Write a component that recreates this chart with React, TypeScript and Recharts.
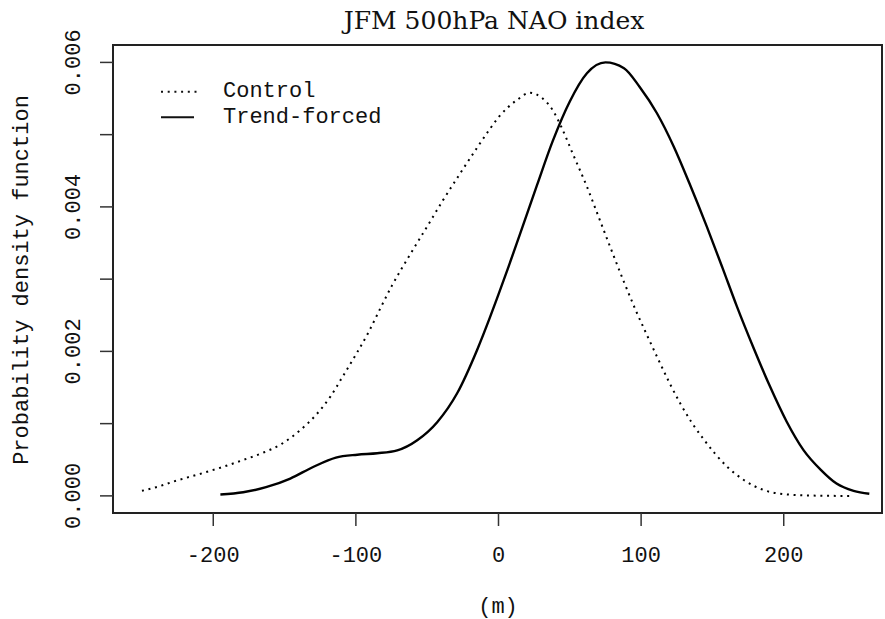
import { LineChart, Line, XAxis, YAxis, Legend, ReferenceArea } from "recharts";

// Control run pdf (dotted)
const controlX = [
  -250, -240, -226, -210, -195, -180, -166, -152, -139, -128, -118, -109, -99, -91, -83, -75, -62,
  -50, -39, -27, -15, -6, 0, 13, 22, 31, 38, 44, 52, 62, 71, 80, 88, 96, 104, 112, 120, 128, 136,
  144, 152, 160, 172, 186, 200, 218, 237, 249,
];
const controlPdf = [
  0.00007, 0.00012, 0.00021, 0.0003, 0.00039, 0.00049, 0.00059, 0.00072, 0.00091, 0.00112,
  0.00137, 0.00166, 0.00199, 0.00227, 0.00259, 0.0029, 0.00334, 0.00373, 0.00409, 0.00446,
  0.00482, 0.00508, 0.00524, 0.00548, 0.00558, 0.0055, 0.00534, 0.00511, 0.00474, 0.00428,
  0.00382, 0.00336, 0.00296, 0.00258, 0.00223, 0.00189, 0.00156, 0.00126, 0.001, 0.00078,
  0.00058, 0.00041, 0.00022, 0.00008, 0.000025, 0.000005, 0, 0,
];

// Trend-forced run pdf (solid)
const trendX = [
  -195, -179, -163, -146, -130, -114, -99, -85, -71, -57, -43, -29, -15, -6, 0, 7, 15, 27, 38, 50,
  62, 75, 88, 99, 111, 123, 134, 146, 157, 167, 179, 190, 202, 214, 226, 237, 249, 260,
];
const trendPdf = [
  0.00002, 0.00005, 0.00012, 0.00024, 0.0004, 0.00053, 0.00057, 0.00059, 0.00063, 0.00077,
  0.00102, 0.00142, 0.00202, 0.00247, 0.00279, 0.00317, 0.00362, 0.0043, 0.00491, 0.00546,
  0.00585, 0.006, 0.00592, 0.00566, 0.0053, 0.00483, 0.00432, 0.00373, 0.00316, 0.00263, 0.00204,
  0.00153, 0.00103, 0.00063, 0.00036, 0.00017, 0.00007, 0.00003,
];

const xTicks = [-200, -100, 0, 100, 200];
const yTicks = [0, 0.001, 0.002, 0.003, 0.004, 0.005, 0.006];

const seriesNames = ["Control", "Trend-forced"];
const chartTitle = "JFM 500hPa NAO index";
const xLabel = "(m)";
const yLabel = "Probability density function";

const controlData = controlX.map((x, i) => ({ x, pdf: controlPdf[i] }));
const trendData = trendX.map((x, i) => ({ x, pdf: trendPdf[i] }));

const MONO = "'Liberation Mono', 'DejaVu Sans Mono', monospace";
const SERIF = "'DejaVu Serif', 'Liberation Serif', serif";
const INK = "#111";
const xDomain = [-270.3, 268.9];
const yDomain = [-0.000237, 0.006241];

const YTick = (props: any) => {
  const { x, y, payload } = props;
  const v = payload.value;
  if (Math.round(v * 1000) % 2 !== 0) return null;
  return (
    <text
      x={x}
      y={y}
      transform={`rotate(-90, ${x}, ${y})`}
      textAnchor="middle"
      dominantBaseline="central"
      fontFamily={MONO}
      fontSize={22}
      fill={INK}
    >
      {v.toFixed(3)}
    </text>
  );
};

const renderLegend = () => (
  <svg width={300} height={60}>
    <line x1={11} x2={47} y1={16.7} y2={16.7} stroke={INK} strokeWidth={2} strokeDasharray="2 4.7" />
    <line x1={11} x2={44} y1={42.3} y2={42.3} stroke={INK} strokeWidth={2} />
    <text x={73} y={16.7} dominantBaseline="central" fontFamily={MONO} fontSize={22} fill={INK}>
      {seriesNames[0]}
    </text>
    <text x={73} y={42.3} dominantBaseline="central" fontFamily={MONO} fontSize={22} fill={INK}>
      {seriesNames[1]}
    </text>
  </svg>
);

// title + y axis title, drawn from the y axis label slot
const renderTitles = () => (
  <g>
    <text x={494} y={29} textAnchor="middle" fontFamily={SERIF} fontSize={25} fill={INK}>
      {chartTitle}
    </text>
    <text
      x={28}
      y={280}
      transform="rotate(-90, 28, 280)"
      textAnchor="middle"
      fontFamily={MONO}
      fontSize={22}
      fill={INK}
    >
      {yLabel}
    </text>
  </g>
);

export default function App() {
  return (
    <div style={{ position: "absolute", left: 0, top: 0, background: "#fff" }}>
      <LineChart width={885} height={619} margin={{ top: 45, right: 3, bottom: 0, left: 0 }}>
        <XAxis
          dataKey="x"
          type="number"
          domain={xDomain}
          ticks={xTicks}
          allowDataOverflow
          height={106}
          tickSize={13}
          tickMargin={20}
          tick={{ fontFamily: MONO, fontSize: 22, fill: INK }}
          tickLine={{ stroke: "#333", strokeWidth: 1.5 }}
          axisLine={{ stroke: "#222", strokeWidth: 2 }}
          label={{
            content: () => (
              <text x={498} y={607} textAnchor="middle" dominantBaseline="central" fontFamily={MONO} fontSize={22} fill={INK}>
                {xLabel}
              </text>
            ),
          }}
        />
        <YAxis
          type="number"
          domain={yDomain}
          ticks={yTicks}
          allowDataOverflow
          width={113}
          tickSize={13}
          tickMargin={25}
          tick={<YTick />}
          tickLine={{ stroke: "#333", strokeWidth: 1.5 }}
          axisLine={{ stroke: "#222", strokeWidth: 2 }}
          label={{ content: renderTitles }}
        />
        <ReferenceArea
          x1={xDomain[0]}
          x2={xDomain[1]}
          y1={yDomain[0]}
          y2={yDomain[1]}
          fill="none"
          fillOpacity={0}
          stroke="#222"
          strokeWidth={2}
          ifOverflow="visible"
        />
        <Legend
          layout="vertical"
          align="center"
          verticalAlign="middle"
          wrapperStyle={{ position: "absolute", left: 150, top: 75, width: 300, height: 60 }}
          content={renderLegend}
        />
        <Line
          data={controlData}
          dataKey="pdf"
          name={seriesNames[0]}
          type="monotone"
          stroke="#000"
          strokeWidth={2}
          strokeDasharray="2 4.7"
          dot={false}
          isAnimationActive={false}
        />
        <Line
          data={trendData}
          dataKey="pdf"
          name={seriesNames[1]}
          type="monotone"
          stroke="#000"
          strokeWidth={2.4}
          dot={false}
          isAnimationActive={false}
        />
      </LineChart>
    </div>
  );
}
